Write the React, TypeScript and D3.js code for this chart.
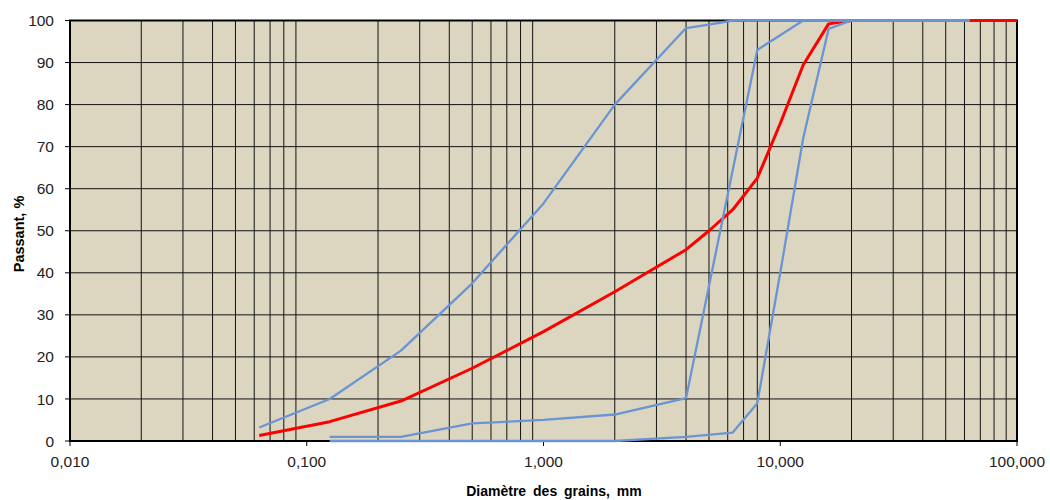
import React, { useEffect, useRef } from 'react';
import { select, scaleLog, scaleLinear, line } from 'd3';

// diamètre (mm) / passant (%)
const courbeFine = [[0.063, 3.2], [0.125, 10], [0.25, 21.5], [0.5, 37.5], [1, 56.5], [2, 80], [4, 98.2], [5, 99], [6.3, 100], [63, 100]];
const courbeMoyenne = [[0.125, 1], [0.25, 1], [0.5, 4.2], [1, 5], [2, 6.3], [4, 10.2], [8, 93], [12.5, 100], [63, 100]];
const courbeGrosse = [[0.125, 0], [0.25, 0], [0.5, 0], [1, 0], [2, 0], [4, 1], [6.3, 2], [8, 9], [10, 40], [12.5, 72], [16, 98], [20, 100], [63, 100]];
const courbeEchantillon = [[0.063, 1.3], [0.125, 4.6], [0.25, 9.5], [0.5, 17.3], [1, 26], [2, 35.5], [4, 45.5], [5, 50], [6.3, 55], [8, 62.5], [10, 75.5], [12.5, 89.4], [16, 99.2], [20, 100], [31.5, 100], [100, 100]];

const xTicks = [0.01, 0.1, 1, 10, 100];
const xTickLabels = ['0,010', '0,100', '1,000', '10,000', '100,000'];
const yTicks = [0, 10, 20, 30, 40, 50, 60, 70, 80, 90, 100];

const App = () => {
    const svgRef = useRef(null);

    useEffect(() => {
        const svg = select(svgRef.current);
        svg.selectAll('*').remove();

        const left = 70, right = 1017, top = 20.5, bottom = 441;
        const x = scaleLog().domain([0.01, 100]).range([left, right]);
        const y = scaleLinear().domain([0, 100]).range([bottom, top]);

        svg.append('rect')
            .attr('x', left).attr('y', top)
            .attr('width', right - left).attr('height', bottom - top)
            .attr('fill', '#dcd6c1');

        // grille log : 1..9 dans chaque décade
        const minor = [];
        for (let d = 0.01; d < 100; d *= 10) {
            for (let k = 2; k <= 9; k++) minor.push(d * k);
        }
        svg.append('g').selectAll('line').data(minor).join('line')
            .attr('x1', (d) => x(d)).attr('x2', (d) => x(d))
            .attr('y1', top).attr('y2', bottom)
            .attr('stroke', '#111').attr('stroke-width', 1);

        svg.append('g').selectAll('line').data(yTicks.slice(1, -1)).join('line')
            .attr('x1', left).attr('x2', right)
            .attr('y1', (d) => y(d)).attr('y2', (d) => y(d))
            .attr('stroke', '#111').attr('stroke-width', 1);

        svg.append('rect')
            .attr('x', left).attr('y', top)
            .attr('width', right - left).attr('height', bottom - top)
            .attr('fill', 'none').attr('stroke', '#000').attr('stroke-width', 2);

        // graduations
        svg.append('g').selectAll('line').data(yTicks).join('line')
            .attr('x1', left - 5).attr('x2', left)
            .attr('y1', (d) => y(d)).attr('y2', (d) => y(d))
            .attr('stroke', '#000').attr('stroke-width', 1);

        svg.append('g').selectAll('text').data(yTicks).join('text')
            .attr('x', left - 16).attr('y', (d) => y(d))
            .attr('dy', '0.36em')
            .attr('text-anchor', 'end')
            .style('font-family', 'Liberation Sans, Arial, sans-serif')
            .style('font-size', '15.5px')
            .attr('fill', '#222')
            .text((d) => d);

        svg.append('g').selectAll('line').data(xTicks).join('line')
            .attr('x1', (d) => x(d)).attr('x2', (d) => x(d))
            .attr('y1', bottom).attr('y2', bottom + 5)
            .attr('stroke', '#000').attr('stroke-width', 1);

        svg.append('g').selectAll('text').data(xTicks).join('text')
            .attr('x', (d) => x(d)).attr('y', 466.5)
            .attr('text-anchor', 'middle')
            .style('font-family', 'Liberation Sans, Arial, sans-serif')
            .style('font-size', '15.5px')
            .attr('fill', '#222')
            .text((d, i) => xTickLabels[i]);

        const path = line().x((p) => x(p[0])).y((p) => y(p[1]));

        svg.append('path').datum(courbeEchantillon)
            .attr('d', path).attr('fill', 'none')
            .attr('stroke', '#ff0000').attr('stroke-width', 3)
            .attr('stroke-linejoin', 'round');

        [courbeFine, courbeMoyenne, courbeGrosse].forEach((c) => {
            svg.append('path').datum(c)
                .attr('d', path).attr('fill', 'none')
                .attr('stroke', '#6a94d4').attr('stroke-width', 2.3)
                .attr('stroke-linejoin', 'round');
        });

        svg.append('text')
            .attr('x', 554).attr('y', 496)
            .attr('text-anchor', 'middle')
            .style('font-family', 'Liberation Sans, Arial, sans-serif')
            .style('font-size', '14px').style('font-weight', 'bold')
            .style('word-spacing', '3px')
            .text('Diamètre des grains, mm');

        svg.append('text')
            .attr('transform', 'translate(24,234) rotate(-90)')
            .attr('text-anchor', 'middle')
            .style('font-family', 'Liberation Sans, Arial, sans-serif')
            .style('font-size', '14.5px').style('font-weight', 'bold')
            .text('Passant, %');
    }, []);

    return (
        <svg ref={svgRef} width={1050} height={500}
            style={{ position: 'absolute', left: 0, top: 0, background: '#fff' }} />
    );
};

export default App;
